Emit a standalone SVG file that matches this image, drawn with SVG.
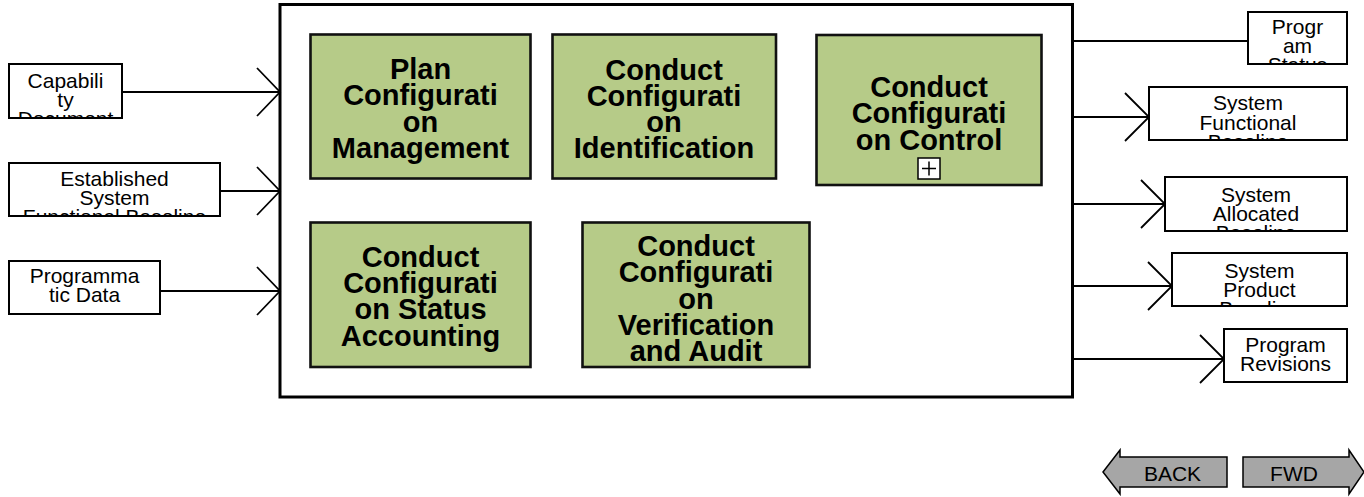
<svg xmlns="http://www.w3.org/2000/svg" width="1364" height="497" viewBox="0 0 1364 497">
<style>
.io{fill:#fff;stroke:#000;stroke-width:2}
.io-t{font-family:"Liberation Sans",Arial,sans-serif;font-size:21px;fill:#000;text-anchor:middle}
.act{fill:#b6cb88;stroke:#111;stroke-width:2.6}
.act-t{font-family:"Liberation Sans",Arial,sans-serif;font-size:29px;font-weight:bold;fill:#000;text-anchor:middle}
.ln{fill:none;stroke:#000;stroke-width:1.8}
.btn{fill:#a6a6a6;stroke:#000;stroke-width:1.5}
.btn-t{font-family:"Liberation Sans",Arial,sans-serif;font-size:21px;fill:#000;text-anchor:middle}
</style>
<defs>
<clipPath id="c-cap"><rect x="10" y="65" width="111" height="52"/></clipPath>
<clipPath id="c-esf"><rect x="10" y="164" width="209" height="51"/></clipPath>
<clipPath id="c-pd"><rect x="10" y="262" width="149" height="51"/></clipPath>
<clipPath id="c-ps"><rect x="1249" y="13" width="97" height="50"/></clipPath>
<clipPath id="c-sfb"><rect x="1150" y="88" width="196" height="51"/></clipPath>
<clipPath id="c-sab"><rect x="1166" y="178" width="180" height="52"/></clipPath>
<clipPath id="c-spb"><rect x="1173" y="254" width="173" height="51"/></clipPath>
<clipPath id="c-pr"><rect x="1225" y="330" width="121" height="51"/></clipPath>
</defs>

<g id="container">
<rect x="280" y="4.5" width="792.5" height="392.5" fill="#fff" stroke="#000" stroke-width="3"/>
</g>

<g id="connectors">
<path class="ln" d="M122 92H280M257 68L280 92L257 116"/>
<path class="ln" d="M220 191H280M257 167L280 191L257 215"/>
<path class="ln" d="M160 291H280M257 267L280 291L257 315"/>
<path class="ln" d="M1072 41H1248"/>
<path class="ln" d="M1072 117H1149M1125 93L1149 117L1125 141"/>
<path class="ln" d="M1072 204H1165M1141 180L1165 204L1141 228"/>
<path class="ln" d="M1072 286H1172M1148 262L1172 286L1148 310"/>
<path class="ln" d="M1072 359H1224M1200 335L1224 359L1200 383"/>
</g>

<g id="node-capability">
<rect class="io" x="9" y="64" width="113" height="54"/>
<g clip-path="url(#c-cap)">
<text class="io-t" x="65.5" y="88">Capabili</text>
<text class="io-t" x="65.5" y="107">ty</text>
<text class="io-t" x="65.5" y="126">Document</text>
</g>
</g>
<g id="node-established">
<rect class="io" x="9" y="163" width="211" height="53"/>
<g clip-path="url(#c-esf)">
<text class="io-t" x="114.5" y="186">Established</text>
<text class="io-t" x="114.5" y="205">System</text>
<text class="io-t" x="114.5" y="224">Functional Baseline</text>
</g>
</g>
<g id="node-programmatic">
<rect class="io" x="9" y="261" width="151" height="53"/>
<g clip-path="url(#c-pd)">
<text class="io-t" x="84.5" y="283">Programma</text>
<text class="io-t" x="84.5" y="302">tic Data</text>
</g>
</g>

<g id="node-program-status">
<rect class="io" x="1248" y="12" width="99" height="52"/>
<g clip-path="url(#c-ps)">
<text class="io-t" x="1297.5" y="34">Progr</text>
<text class="io-t" x="1297.5" y="53">am</text>
<text class="io-t" x="1297.5" y="72">Status</text>
</g>
</g>
<g id="node-sfb">
<rect class="io" x="1149" y="87" width="198" height="53"/>
<g clip-path="url(#c-sfb)">
<text class="io-t" x="1248" y="110">System</text>
<text class="io-t" x="1248" y="129.5">Functional</text>
<text class="io-t" x="1248" y="149">Baseline</text>
</g>
</g>
<g id="node-sab">
<rect class="io" x="1165" y="177" width="182" height="54"/>
<g clip-path="url(#c-sab)">
<text class="io-t" x="1256" y="202">System</text>
<text class="io-t" x="1256" y="221">Allocated</text>
<text class="io-t" x="1256" y="240">Baseline</text>
</g>
</g>
<g id="node-spb">
<rect class="io" x="1172" y="253" width="175" height="53"/>
<g clip-path="url(#c-spb)">
<text class="io-t" x="1259.5" y="278">System</text>
<text class="io-t" x="1259.5" y="297">Product</text>
<text class="io-t" x="1259.5" y="316">Baseline</text>
</g>
</g>
<g id="node-revisions">
<rect class="io" x="1224" y="329" width="123" height="53"/>
<g clip-path="url(#c-pr)">
<text class="io-t" x="1285.5" y="352">Program</text>
<text class="io-t" x="1285.5" y="371">Revisions</text>
</g>
</g>

<g id="act-plan">
<rect class="act" x="310.5" y="34.5" width="220" height="144"/>
<text class="act-t" x="420.5" y="79">Plan</text>
<text class="act-t" x="420.5" y="105.3">Configurati</text>
<text class="act-t" x="420.5" y="131.6">on</text>
<text class="act-t" x="420.5" y="158">Management</text>
</g>
<g id="act-identification">
<rect class="act" x="552.5" y="34.5" width="223.5" height="144"/>
<text class="act-t" x="664" y="79.5">Conduct</text>
<text class="act-t" x="664" y="105.5">Configurati</text>
<text class="act-t" x="664" y="131.5">on</text>
<text class="act-t" x="664" y="157.5">Identification</text>
</g>
<g id="act-control">
<rect class="act" x="816.5" y="35" width="225" height="150"/>
<text class="act-t" x="929" y="96.5">Conduct</text>
<text class="act-t" x="929" y="123">Configurati</text>
<text class="act-t" x="929" y="149.5">on Control</text>
<rect x="918" y="158" width="22" height="21" fill="#fff" stroke="#000" stroke-width="1.5"/>
<path d="M922 168.5H936M929 161.5V175.5" stroke="#000" stroke-width="1.5" fill="none"/>
</g>
<g id="act-status">
<rect class="act" x="310.5" y="222.5" width="220" height="144.5"/>
<text class="act-t" x="420.5" y="266.5">Conduct</text>
<text class="act-t" x="420.5" y="292.8">Configurati</text>
<text class="act-t" x="420.5" y="319.1">on Status</text>
<text class="act-t" x="420.5" y="345.5">Accounting</text>
</g>
<g id="act-verification">
<rect class="act" x="582.5" y="222.5" width="227" height="144.5"/>
<text class="act-t" x="696" y="256">Conduct</text>
<text class="act-t" x="696" y="282">Configurati</text>
<text class="act-t" x="696" y="308.5">on</text>
<text class="act-t" x="696" y="334.5">Verification</text>
<text class="act-t" x="696" y="360.5">and Audit</text>
</g>

<g id="btn-back">
<path class="btn" d="M1103 472L1120 450V457H1227V487H1120V494Z"/>
<text class="btn-t" x="1172.5" y="481">BACK</text>
</g>
<g id="btn-fwd">
<path class="btn" d="M1243 457H1349V450L1364 472L1349 494V487H1243Z"/>
<text class="btn-t" x="1294" y="481">FWD</text>
</g>
</svg>
